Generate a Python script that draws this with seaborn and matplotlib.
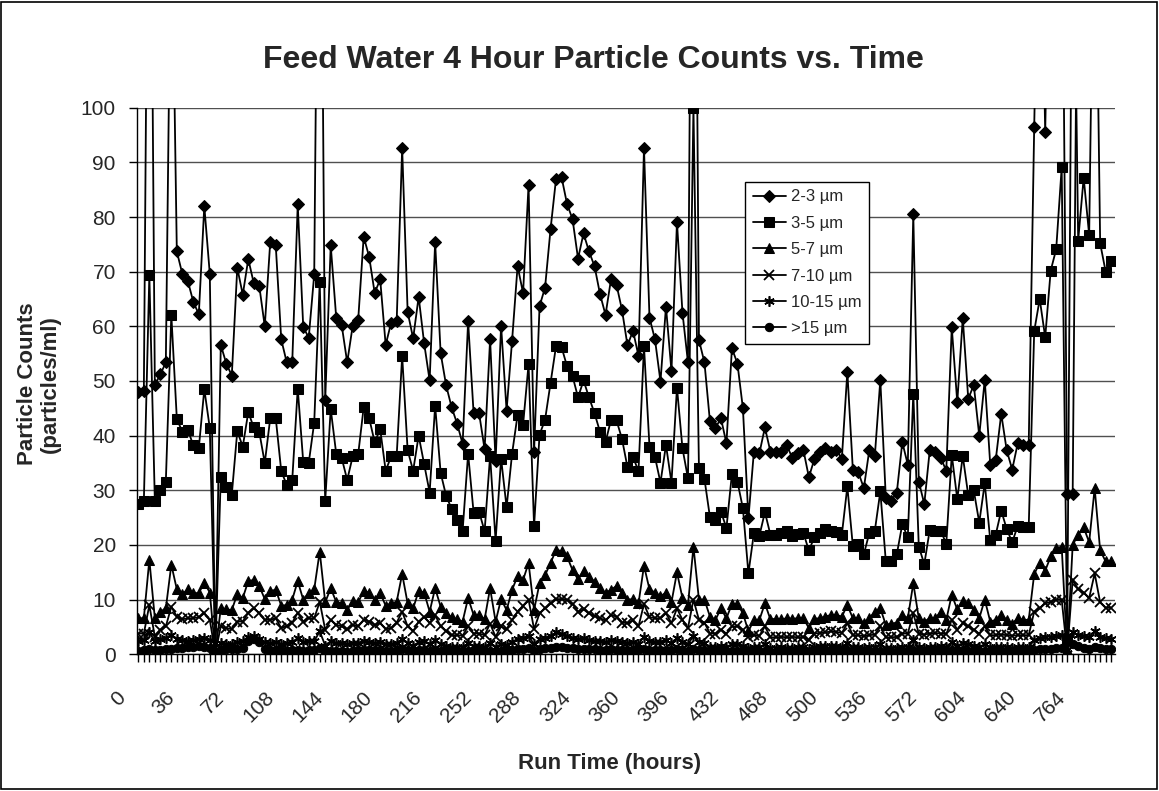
import matplotlib
matplotlib.use("Agg")
import matplotlib.pyplot as plt
from matplotlib.patches import Rectangle
from matplotlib.transforms import ScaledTranslation
import seaborn as sns

# particle counts per 4-hour sample (values > 100 run off the top of the chart)
s23 = [48.0, 48.2, 180, 49.3, 51.2, 53.4, 140, 73.7, 69.6, 68.3,
       64.5, 62.2, 82.0, 69.6, 0.3, 56.6, 53.2, 51.0, 70.7, 65.8,
       72.3, 67.9, 67.4, 60.0, 75.5, 74.8, 57.6, 53.4, 53.4, 82.3,
       59.9, 57.9, 69.5, 180, 46.5, 74.8, 61.6, 60.2, 53.4, 60.1,
       61.2, 76.4, 72.7, 66.1, 68.6, 56.6, 60.7, 60.9, 92.6, 62.6,
       57.8, 65.4, 56.9, 50.1, 75.4, 55.1, 49.2, 45.2, 42.2, 38.5,
       60.9, 44.1, 44.1, 37.5, 57.6, 35.3, 60.1, 44.6, 57.4, 71.0,
       66.1, 85.9, 37.1, 63.7, 67.1, 77.8, 87.0, 87.3, 82.4, 79.6,
       72.4, 77.0, 73.7, 71.0, 65.9, 62.1, 68.6, 67.6, 63.0, 56.5,
       59.2, 54.6, 92.6, 61.6, 57.6, 49.9, 63.6, 51.8, 79.1, 62.5,
       53.4, 200, 57.5, 53.4, 42.6, 41.4, 43.2, 38.6, 56.0, 53.2,
       45.0, 24.9, 37.1, 36.8, 41.5, 37.1, 37.1, 37.1, 38.2, 35.9,
       36.8, 37.4, 32.4, 35.7, 37.1, 37.7, 37.1, 37.4, 35.8, 51.7,
       33.8, 33.3, 30.4, 37.4, 36.3, 50.2, 28.6, 28.1, 29.6, 38.8,
       34.7, 80.5, 31.6, 27.5, 37.4, 37.1, 35.9, 33.6, 59.8, 46.1,
       61.5, 46.7, 49.3, 40.0, 50.2, 34.7, 35.6, 44.0, 37.3, 33.8,
       38.6, 38.3, 38.3, 96.5, 150, 95.5, 150, 150, 150, 29.4,
       29.4, 150, 150, 150, 150, 150, 150, 150]

s35 = [27.5, 28.0, 69.4, 28.1, 30.0, 31.6, 62.1, 43.1, 40.7, 41.1,
       38.2, 37.7, 48.5, 41.4, 0.3, 32.5, 30.6, 29.2, 40.8, 38.0,
       44.3, 41.5, 40.7, 35.0, 43.2, 43.2, 33.5, 31.0, 31.9, 48.6,
       35.2, 35.0, 42.4, 68.1, 28.1, 44.9, 36.7, 35.9, 31.9, 36.2,
       36.6, 45.2, 43.2, 38.8, 41.2, 33.6, 36.2, 36.3, 54.6, 37.3,
       33.6, 40.0, 34.8, 29.6, 45.5, 33.2, 29.0, 26.6, 24.6, 22.6,
       36.7, 25.9, 26.1, 22.5, 36.3, 20.8, 35.8, 26.9, 36.7, 43.8,
       42.0, 53.1, 23.4, 40.2, 42.9, 49.7, 56.4, 56.2, 52.7, 50.9,
       47.0, 50.1, 47.0, 44.1, 40.7, 38.8, 42.9, 42.8, 39.4, 34.2,
       36.1, 33.5, 56.4, 38.0, 36.1, 31.4, 38.3, 31.4, 48.8, 37.7,
       32.2, 100.0, 34.1, 32.1, 25.1, 24.6, 26.1, 23.1, 33.0, 31.6,
       26.7, 14.8, 22.2, 21.7, 26.0, 21.9, 21.9, 22.2, 22.6, 21.6,
       22.0, 22.2, 19.0, 21.4, 22.2, 22.9, 22.5, 22.3, 21.9, 30.7,
       19.8, 20.1, 18.3, 22.2, 22.6, 29.8, 17.0, 17.1, 18.3, 23.8,
       21.4, 47.7, 19.7, 16.5, 22.8, 22.6, 22.6, 20.2, 36.5, 28.4,
       36.3, 29.1, 30.0, 24.1, 31.3, 20.9, 21.9, 26.3, 22.9, 20.5,
       23.5, 23.2, 23.2, 59.1, 65.0, 58.0, 70.2, 74.1, 89.1, 2.6,
       150, 75.7, 87.2, 76.7, 150, 75.2, 70.0, 72.0]

s57 = [6.6, 6.6, 17.3, 6.6, 7.8, 8.4, 16.4, 11.9, 11.0, 11.9,
       11.2, 11.2, 13.1, 11.3, 0.3, 8.4, 8.2, 8.1, 11.0, 10.3,
       13.4, 13.6, 12.5, 10.1, 11.6, 11.8, 8.9, 9.0, 10.0, 13.4,
       10.0, 11.2, 11.9, 18.8, 9.5, 12.1, 9.6, 9.3, 8.1, 9.8,
       9.5, 11.6, 11.3, 10.0, 11.2, 8.9, 9.3, 9.6, 14.7, 9.3,
       8.4, 11.6, 11.3, 7.8, 12.1, 8.7, 7.5, 6.8, 6.4, 6.0,
       10.3, 7.2, 7.2, 6.4, 12.1, 6.0, 10.1, 8.1, 11.8, 14.3,
       13.6, 16.7, 8.1, 13.0, 14.5, 16.7, 19.1, 18.9, 17.9, 15.4,
       13.7, 15.3, 14.2, 13.3, 12.1, 11.2, 11.8, 12.5, 11.3, 10.0,
       10.1, 9.3, 16.2, 11.9, 11.3, 10.6, 11.3, 9.5, 15.0, 10.3,
       9.0, 19.7, 10.0, 10.0, 6.9, 6.3, 8.4, 6.6, 9.2, 9.2,
       7.5, 4.2, 6.3, 6.3, 9.3, 6.4, 6.5, 6.4, 6.6, 6.5,
       6.6, 6.6, 4.8, 6.5, 6.6, 6.9, 7.2, 7.2, 6.9, 9.0,
       6.6, 6.6, 5.7, 6.6, 7.8, 8.4, 5.4, 5.6, 5.8, 7.2,
       6.6, 13.0, 6.6, 6.0, 6.6, 6.6, 7.8, 6.3, 10.9, 8.2,
       9.8, 9.3, 8.1, 6.6, 10.0, 6.0, 6.3, 7.2, 6.3, 5.6,
       6.6, 6.3, 6.3, 14.7, 16.7, 15.3, 17.9, 19.4, 19.7, 0.5,
       20.0, 21.9, 23.2, 20.5, 30.4, 19.0, 17.0, 17.0]

s710 = [3.8, 3.8, 9.0, 3.2, 4.5, 5.1, 8.7, 6.9, 6.4, 6.6,
        6.6, 6.8, 7.5, 6.3, 0.2, 5.1, 4.8, 4.6, 6.0, 6.0,
        7.6, 8.4, 7.5, 6.3, 6.3, 6.6, 4.8, 5.2, 5.8, 7.6,
        6.0, 6.6, 6.6, 9.6, 4.5, 6.3, 5.4, 5.1, 4.6, 5.4,
        5.1, 6.3, 6.0, 5.4, 5.7, 4.6, 4.8, 5.8, 7.8, 5.1,
        4.2, 6.0, 6.9, 5.7, 7.2, 5.1, 4.2, 3.5, 3.5, 3.4,
        5.1, 3.8, 3.8, 3.5, 5.6, 3.2, 5.1, 4.6, 6.3, 7.8,
        8.9, 10.0, 4.6, 7.5, 8.4, 9.3, 10.1, 10.1, 10.0, 9.2,
        7.8, 8.2, 7.5, 7.0, 6.6, 6.2, 7.2, 6.9, 5.8, 5.7,
        6.2, 5.1, 9.2, 6.8, 6.6, 6.6, 7.5, 5.7, 8.4, 6.3,
        4.8, 10.0, 6.3, 5.8, 3.8, 3.8, 4.5, 3.8, 5.1, 5.1,
        4.5, 3.2, 3.5, 3.4, 5.1, 3.1, 3.1, 3.2, 3.1, 3.2,
        3.1, 3.2, 2.6, 3.8, 3.9, 4.0, 4.2, 4.1, 3.9, 5.7,
        3.5, 3.5, 3.3, 3.5, 3.6, 5.1, 3.1, 3.1, 3.2, 3.8,
        3.8, 7.5, 3.8, 3.6, 3.8, 3.9, 3.8, 3.7, 6.3, 4.5,
        5.7, 5.1, 4.5, 3.8, 5.1, 3.5, 3.5, 3.6, 3.5, 3.4,
        3.5, 3.5, 3.5, 7.8, 8.4, 9.3, 9.6, 10.0, 10.0, 0.4,
        13.6, 11.9, 11.3, 10.3, 14.8, 9.5, 8.5, 8.5]

s1015 = [2.5, 2.6, 4.0, 2.4, 2.8, 3.0, 3.6, 2.8, 2.6, 2.5,
         2.6, 2.8, 3.0, 2.6, 0.2, 2.0, 1.8, 1.8, 2.2, 2.4,
         3.2, 3.4, 2.8, 2.2, 2.0, 2.2, 1.8, 2.0, 2.2, 3.0,
         2.2, 2.4, 2.4, 4.2, 1.6, 2.4, 2.0, 2.0, 1.8, 2.0,
         2.0, 2.4, 2.2, 2.0, 2.2, 1.8, 1.8, 2.0, 2.8, 2.0,
         1.6, 2.2, 2.4, 1.9, 2.6, 1.8, 1.6, 1.4, 1.4, 1.3,
         2.0, 1.5, 1.5, 1.4, 2.0, 1.3, 1.9, 1.7, 2.3, 2.8,
         3.0, 3.4, 1.8, 2.8, 3.0, 3.4, 4.0, 3.8, 3.4, 3.0,
         2.8, 2.9, 2.6, 2.5, 2.4, 2.2, 2.6, 2.5, 2.2, 2.1,
         2.3, 1.9, 3.2, 2.4, 2.3, 2.3, 2.6, 2.0, 3.0, 2.2,
         1.8, 3.4, 2.2, 2.0, 1.4, 1.4, 1.6, 1.4, 1.8, 1.8,
         1.6, 1.2, 1.3, 1.3, 1.8, 1.2, 1.2, 1.3, 1.2, 1.2,
         1.3, 1.3, 1.0, 1.4, 1.5, 1.5, 1.6, 1.5, 1.4, 2.0,
         1.3, 1.3, 1.2, 1.3, 1.4, 1.8, 1.1, 1.1, 1.2, 1.4,
         1.3, 2.6, 1.3, 1.2, 1.4, 1.4, 1.5, 1.3, 2.2, 1.6,
         2.0, 1.8, 1.6, 1.4, 1.8, 1.3, 1.3, 1.4, 1.3, 1.2,
         1.4, 1.3, 1.3, 2.6, 2.9, 3.2, 3.2, 3.4, 3.6, 0.3,
         4.0, 3.6, 3.4, 3.2, 4.2, 3.2, 3.0, 2.8]

s15 = [0.6, 0.7, 0.9, 0.7, 0.8, 0.9, 1.0, 1.1, 1.2, 1.3,
       1.4, 1.5, 1.3, 1.2, 0.1, 0.8, 0.9, 0.9, 1.0, 1.2,
       2.4, 2.8, 2.2, 0.9, 0.7, 0.7, 0.7, 0.6, 0.7, 0.8,
       0.6, 0.7, 0.7, 1.2, 0.5, 0.6, 0.6, 0.6, 0.5, 0.6,
       0.7, 0.8, 0.8, 0.7, 0.8, 0.6, 0.6, 0.7, 0.9, 0.7,
       0.6, 0.7, 0.8, 0.6, 0.7, 0.6, 0.5, 0.5, 0.5, 0.5,
       0.6, 0.5, 0.5, 0.5, 0.6, 0.5, 0.6, 0.6, 0.8, 0.9,
       1.0, 1.1, 0.6, 1.0, 1.1, 1.2, 1.4, 1.4, 1.2, 1.1,
       1.0, 1.0, 0.9, 0.9, 0.8, 0.8, 0.9, 0.8, 0.8, 0.7,
       0.8, 0.7, 1.0, 0.8, 0.8, 0.7, 0.8, 0.7, 0.9, 0.7,
       0.6, 1.0, 0.7, 0.7, 0.5, 0.5, 0.5, 0.5, 0.6, 0.6,
       0.5, 0.4, 0.5, 0.5, 0.6, 0.4, 0.4, 0.5, 0.4, 0.4,
       0.5, 0.5, 0.4, 0.5, 0.5, 0.5, 0.6, 0.5, 0.5, 0.7,
       0.5, 0.5, 0.4, 0.5, 0.5, 0.6, 0.4, 0.4, 0.4, 0.5,
       0.5, 0.8, 0.5, 0.4, 0.5, 0.5, 0.5, 0.5, 0.7, 0.6,
       0.7, 0.6, 0.6, 0.5, 0.6, 0.5, 0.5, 0.5, 0.5, 0.4,
       0.5, 0.5, 0.5, 0.8, 0.9, 1.0, 1.0, 1.1, 1.2, 0.1,
       1.8, 1.5, 1.2, 1.0, 1.4, 1.1, 1.0, 0.9]

series_names = ["2-3 µm", "3-5 µm", "5-7 µm", "7-10 µm", "10-15 µm", ">15 µm"]
tick_labels = ["0", "36", "72", "108", "144", "180", "216", "252", "288", "324",
               "360", "396", "432", "468", "500", "536", "572", "604", "640", "764"]
label_step = 9  # one label every 9 samples

all_series = [s23, s35, s57, s710, s1015, s15]
n = len(s23)
assert all(len(s) == n for s in all_series)
idx = list(range(n))

sns.set_theme(style="white")
plt.rcParams["font.family"] = ["Liberation Sans", "DejaVu Sans"]

W, H = 1159, 791
fig = plt.figure(figsize=(W / 100, H / 100), dpi=100)
# plot area in pixels: left 136.7, right 1115, top 107.7, bottom 654.3
ax = fig.add_axes([136.7 / W, 1 - 654.3 / H, (1115 - 136.7) / W, (654.3 - 107.7) / H])

styles = [
    dict(marker="D", markersize=6.5),
    dict(marker="s", markersize=6.5),
    dict(marker="^", markersize=7),
    dict(marker="x", markersize=6.5, markeredgewidth=1.3),
    dict(marker=(6, 2, 0), markersize=7.5, markeredgewidth=1.2),
    dict(marker="o", markersize=6),
]
for name, vals, st in zip(series_names, all_series, styles):
    sns.lineplot(x=idx, y=vals, ax=ax, color="black", linewidth=1.3,
                 markeredgecolor="black", markerfacecolor="black",
                 label=name, estimator=None, **st)

ax.set_ylim(0, 100)
ax.set_xlim(-0.3, n - 1 + 0.7)
ax.set_yticks(range(0, 101, 10))
ax.yaxis.grid(True, color="#505050", linewidth=1)
ax.xaxis.grid(False)
for side in ["top", "right"]:
    ax.spines[side].set_visible(False)
for side in ["left", "bottom"]:
    ax.spines[side].set_color("black")
    ax.spines[side].set_linewidth(1)

ax.set_xticks(range(0, n), minor=True)
ax.set_xticks(range(0, label_step * len(tick_labels), label_step))
ax.set_xticklabels(tick_labels, rotation=45, ha="right", va="center",
                   rotation_mode="anchor", fontsize=15)
ax.tick_params(axis="x", which="both", direction="out", length=6, width=1,
               color="black", bottom=True, pad=0)
ax.tick_params(axis="y", direction="out", length=6, width=1, color="black",
               left=True, labelsize=15, pad=9)
shift = ScaledTranslation(-0.16, -0.32, fig.dpi_scale_trans)
for lab in ax.get_xticklabels():
    lab.set_transform(lab.get_transform() + shift)

ax.set_xlabel("")
ax.set_ylabel("")
fig.text(610 / W, 1 - 763 / H, "Run Time (hours)", ha="center", va="center",
         fontsize=16, fontweight="bold")
fig.text(39 / W, 1 - 384 / H, "Particle Counts\n(particles/ml)", ha="center",
         va="center", rotation=90, fontsize=16, fontweight="bold",
         linespacing=1.15)
fig.text(593 / W, 1 - 60 / H, "Feed Water 4 Hour Particle Counts vs. Time",
         ha="center", va="center", fontsize=23, fontweight="bold")

leg = ax.legend(loc="upper left", bbox_to_anchor=(745 / W, 1 - 182 / H),
                bbox_transform=fig.transFigure, fontsize=12, frameon=True,
                fancybox=False, edgecolor="black", framealpha=1,
                handlelength=2.0, handletextpad=0.3, labelspacing=0.68,
                borderpad=0.45, borderaxespad=0)
leg.get_frame().set_linewidth(1)

fig.patches.append(Rectangle((0.001, 0.002), 0.997, 0.996, transform=fig.transFigure,
                             fill=False, edgecolor="black", linewidth=1.2))

fig.savefig("out.png", dpi=100)
